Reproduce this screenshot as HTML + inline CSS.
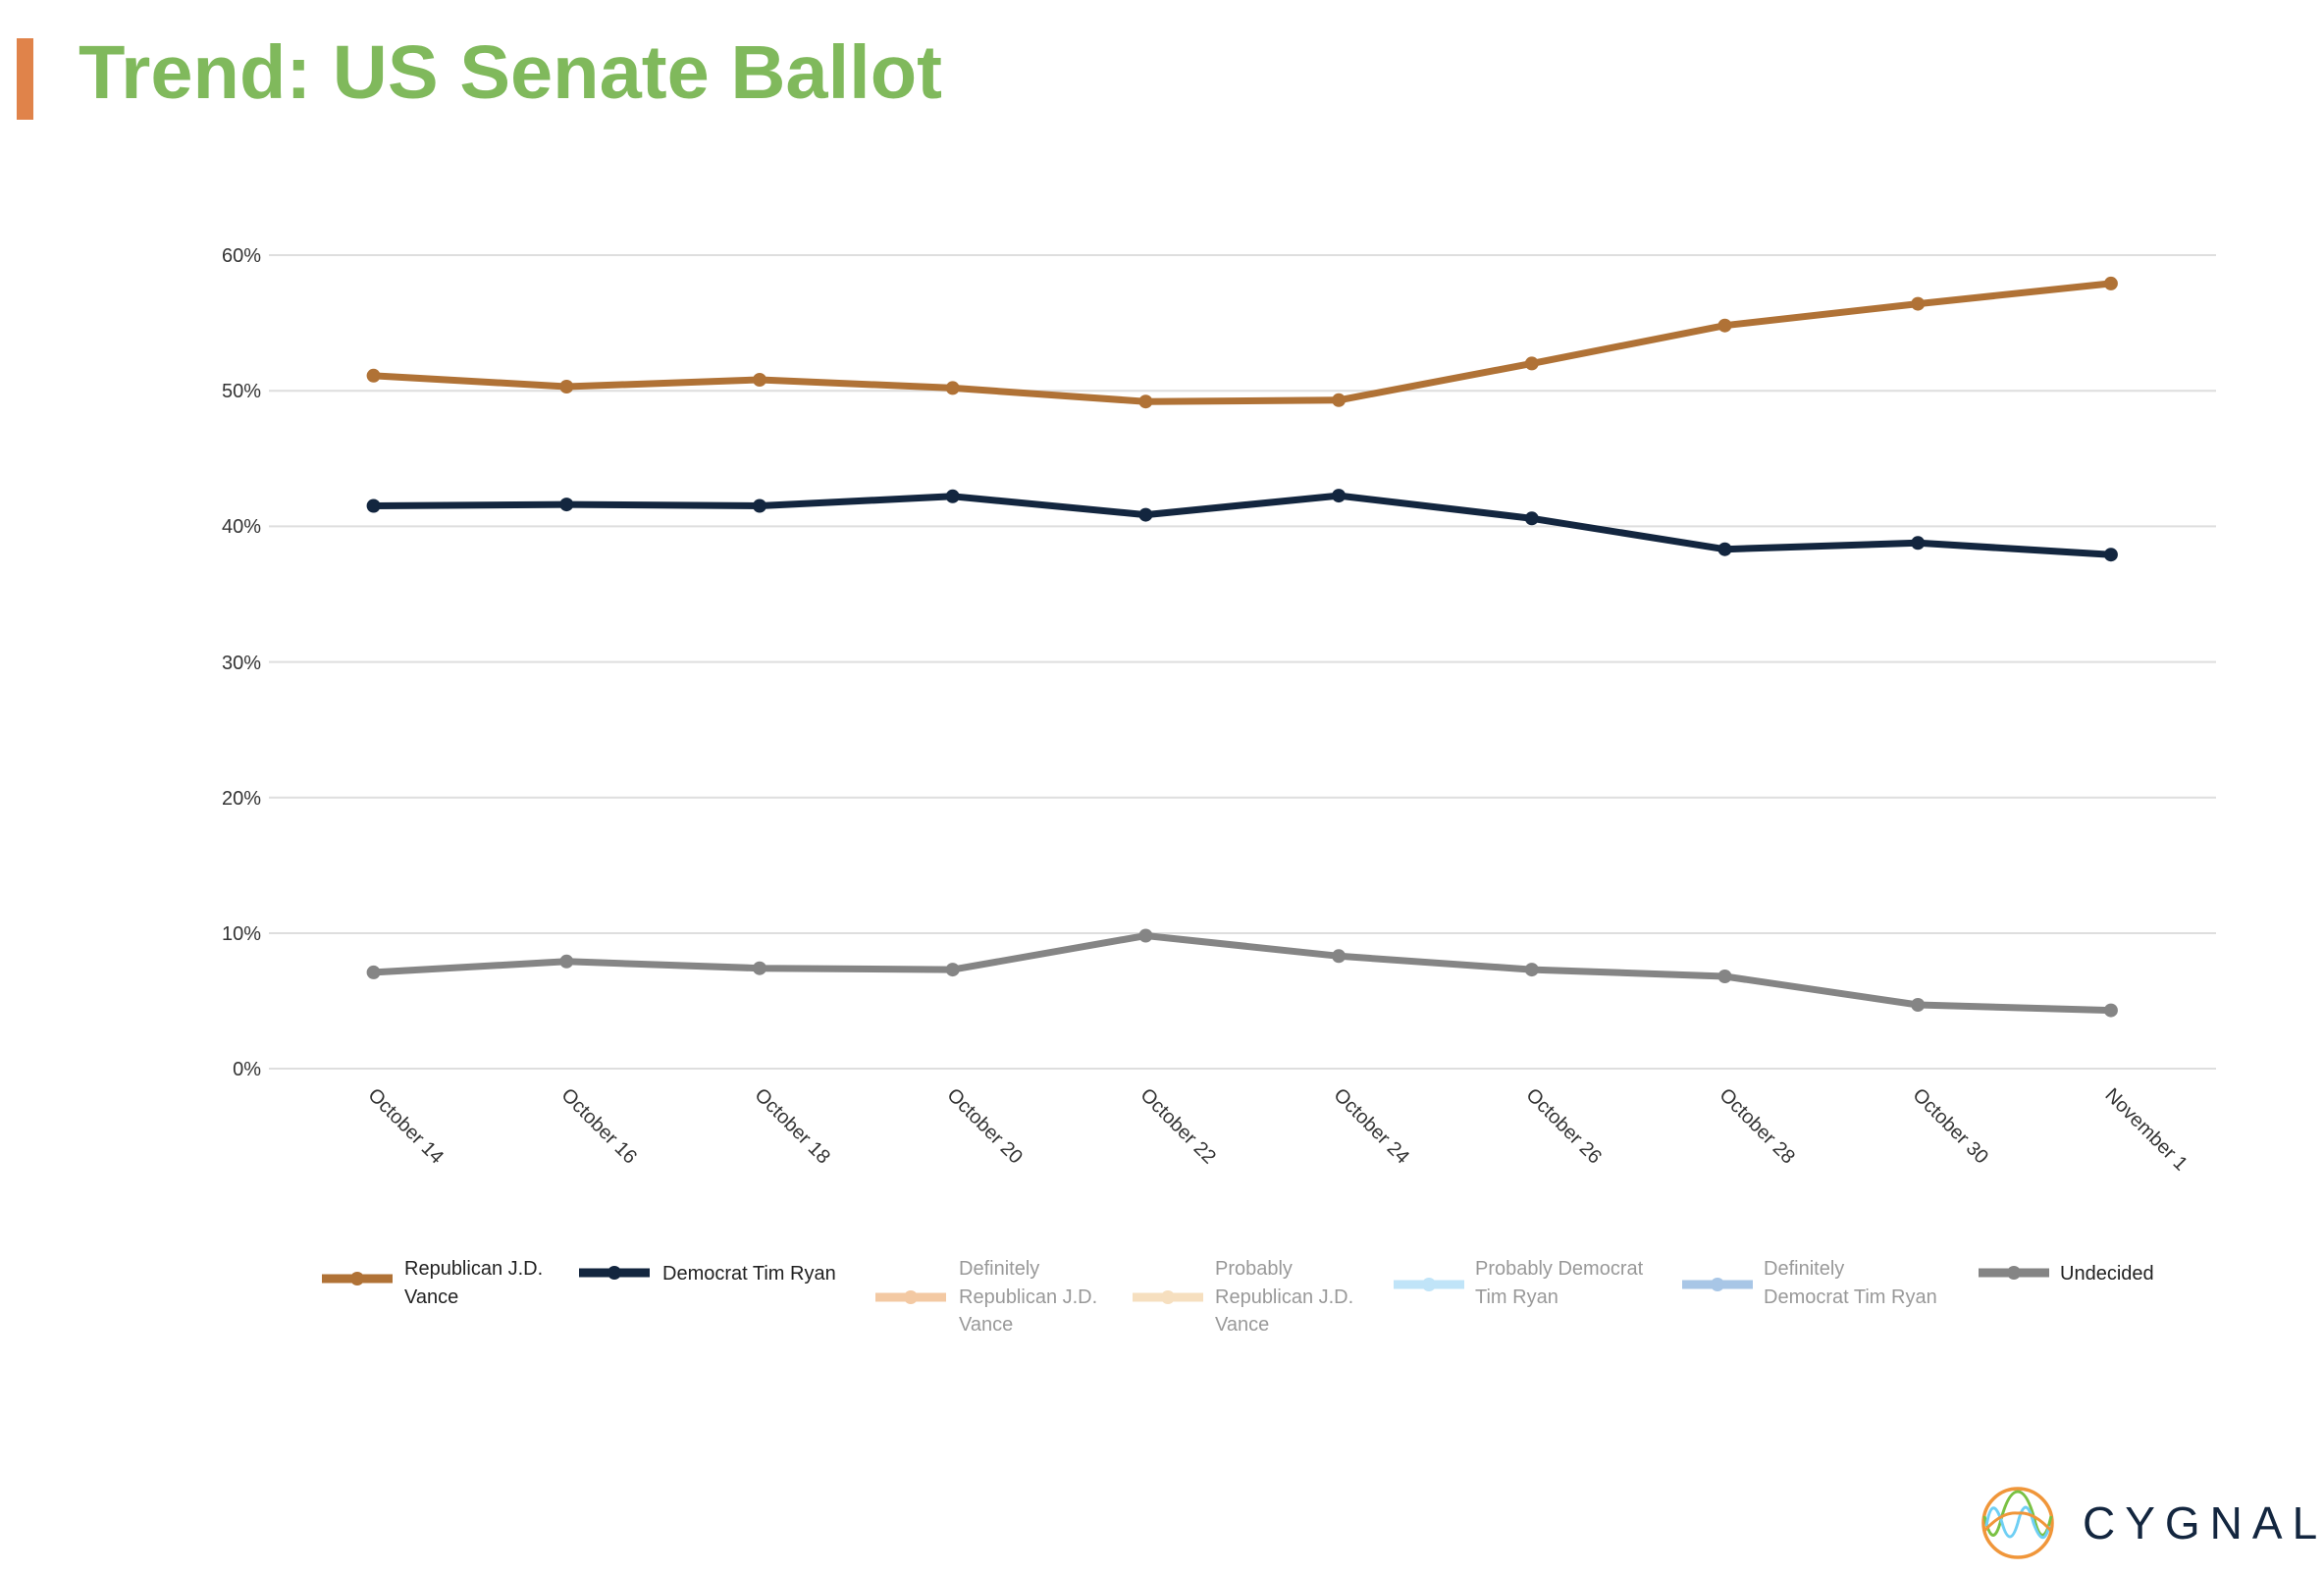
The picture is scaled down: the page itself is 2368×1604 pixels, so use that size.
<!DOCTYPE html>
<html><head><meta charset="utf-8"><style>
html,body{margin:0;padding:0;background:#fff;width:2368px;height:1604px;overflow:hidden}
svg{display:block;font-family:"Liberation Sans",Arial,sans-serif}
</style></head><body>
<svg width="2368" height="1604" viewBox="0 0 2368 1604" xmlns="http://www.w3.org/2000/svg">
<rect x="17" y="39" width="17" height="83" fill="#e0834a"/>
<text x="80" y="100" font-size="77" font-weight="bold" fill="#80b95c" textLength="880" lengthAdjust="spacingAndGlyphs">Trend: US Senate Ballot</text>
<g stroke="#dedede" stroke-width="2">
<line x1="274" x2="2258" y1="260" y2="260"/><line x1="274" x2="2258" y1="398.2" y2="398.2"/>
<line x1="274" x2="2258" y1="536.4" y2="536.4"/><line x1="274" x2="2258" y1="674.6" y2="674.6"/>
<line x1="274" x2="2258" y1="812.8" y2="812.8"/><line x1="274" x2="2258" y1="951" y2="951"/>
<line x1="274" x2="2258" y1="1089" y2="1089"/>
</g>
<g font-size="20" fill="#333" text-anchor="end">
<text x="266" y="267">60%</text><text x="266" y="405">50%</text><text x="266" y="543">40%</text>
<text x="266" y="682">30%</text><text x="266" y="820">20%</text><text x="266" y="958">10%</text><text x="266" y="1096">0%</text>
</g>
<g font-size="20" fill="#333">
<text transform="translate(374 1117) rotate(45)">October 14</text>
<text transform="translate(571 1117) rotate(45)">October 16</text>
<text transform="translate(768 1117) rotate(45)">October 18</text>
<text transform="translate(964 1117) rotate(45)">October 20</text>
<text transform="translate(1161 1117) rotate(45)">October 22</text>
<text transform="translate(1358 1117) rotate(45)">October 24</text>
<text transform="translate(1554 1117) rotate(45)">October 26</text>
<text transform="translate(1751 1117) rotate(45)">October 28</text>
<text transform="translate(1948 1117) rotate(45)">October 30</text>
<text transform="translate(2144 1117) rotate(45)">November 1</text>
</g>
<g fill="none" stroke-width="7" stroke-linejoin="round">
<polyline stroke="#b07236" points="380.6,382.8 577.3,394 774,387 970.7,395.4 1167.4,409.2 1364.1,407.8 1560.8,370.4 1757.5,331.7 1954.2,309.6 2150.9,288.9"/>
<polyline stroke="#13263f" points="380.6,515.5 577.3,514.1 774,515.5 970.7,505.8 1167.4,524.6 1364.1,505.1 1560.8,528.3 1757.5,559.7 1954.2,553.3 2150.9,565.2"/>
<polyline stroke="#858585" points="380.6,990.9 577.3,979.8 774,986.7 970.7,988.1 1167.4,953.5 1364.1,974.3 1560.8,988.1 1757.5,995 1954.2,1024 2150.9,1029.6"/>
</g>
<g fill="#b07236">
<circle cx="380.6" cy="382.8" r="7"/><circle cx="577.3" cy="394" r="7"/><circle cx="774" cy="387" r="7"/><circle cx="970.7" cy="395.4" r="7"/><circle cx="1167.4" cy="409.2" r="7"/><circle cx="1364.1" cy="407.8" r="7"/><circle cx="1560.8" cy="370.4" r="7"/><circle cx="1757.5" cy="331.7" r="7"/><circle cx="1954.2" cy="309.6" r="7"/><circle cx="2150.9" cy="288.9" r="7"/>
</g>
<g fill="#13263f">
<circle cx="380.6" cy="515.5" r="7"/><circle cx="577.3" cy="514.1" r="7"/><circle cx="774" cy="515.5" r="7"/><circle cx="970.7" cy="505.8" r="7"/><circle cx="1167.4" cy="524.6" r="7"/><circle cx="1364.1" cy="505.1" r="7"/><circle cx="1560.8" cy="528.3" r="7"/><circle cx="1757.5" cy="559.7" r="7"/><circle cx="1954.2" cy="553.3" r="7"/><circle cx="2150.9" cy="565.2" r="7"/>
</g>
<g fill="#858585">
<circle cx="380.6" cy="990.9" r="7"/><circle cx="577.3" cy="979.8" r="7"/><circle cx="774" cy="986.7" r="7"/><circle cx="970.7" cy="988.1" r="7"/><circle cx="1167.4" cy="953.5" r="7"/><circle cx="1364.1" cy="974.3" r="7"/><circle cx="1560.8" cy="988.1" r="7"/><circle cx="1757.5" cy="995" r="7"/><circle cx="1954.2" cy="1024" r="7"/><circle cx="2150.9" cy="1029.6" r="7"/>
</g>
<!-- legend -->
<g stroke-width="9">
<line x1="328" x2="400" y1="1303" y2="1303" stroke="#b07236"/>
<line x1="590" x2="662" y1="1297" y2="1297" stroke="#13263f"/>
<line x1="892" x2="964" y1="1322" y2="1322" stroke="#f3c9a3"/>
<line x1="1154" x2="1226" y1="1322" y2="1322" stroke="#f6dfbf"/>
<line x1="1420" x2="1492" y1="1309" y2="1309" stroke="#c0e4f8"/>
<line x1="1714" x2="1786" y1="1309" y2="1309" stroke="#a8c6e6"/>
<line x1="2016" x2="2088" y1="1297" y2="1297" stroke="#858585"/>
</g>
<circle cx="364" cy="1303" r="7" fill="#b07236"/>
<circle cx="626" cy="1297" r="7" fill="#13263f"/>
<circle cx="928" cy="1322" r="7" fill="#f3c9a3"/>
<circle cx="1190" cy="1322" r="7" fill="#f6dfbf"/>
<circle cx="1456" cy="1309" r="7" fill="#c0e4f8"/>
<circle cx="1750" cy="1309" r="7" fill="#a8c6e6"/>
<circle cx="2052" cy="1297" r="7" fill="#858585"/>
<g font-size="20" fill="#222">
<text x="412" y="1299">Republican J.D.</text><text x="412" y="1328">Vance</text>
<text x="675" y="1304">Democrat Tim Ryan</text>
<text x="2099" y="1304">Undecided</text>
</g>
<g font-size="20" fill="#999">
<text x="977" y="1299">Definitely</text><text x="977" y="1328">Republican J.D.</text><text x="977" y="1356">Vance</text>
<text x="1238" y="1299">Probably</text><text x="1238" y="1328">Republican J.D.</text><text x="1238" y="1356">Vance</text>
<text x="1503" y="1299">Probably Democrat</text><text x="1503" y="1328">Tim Ryan</text>
<text x="1797" y="1299">Definitely</text><text x="1797" y="1328">Democrat Tim Ryan</text>
</g>
<!-- logo -->
<circle cx="2056" cy="1552" r="35" fill="none" stroke="#f0963a" stroke-width="3.5"/>
<path d="M2022 1545 Q2030 1580 2038 1552 Q2046 1520 2056 1520 Q2066 1520 2074 1552 Q2082 1580 2090 1545" fill="none" stroke="#7ac143" stroke-width="3"/>
<path d="M2024 1555 Q2030 1520 2040 1552 Q2048 1580 2056 1552 Q2064 1520 2072 1552 Q2082 1580 2088 1555" fill="none" stroke="#6fcff4" stroke-width="3"/>
<path d="M2022 1560 Q2040 1540 2056 1542 Q2072 1540 2090 1560" fill="none" stroke="#f0963a" stroke-width="3"/>
<text x="2122" y="1568" font-size="46" fill="#13263f" letter-spacing="10">CYGNAL</text>
</svg>
</body></html>
